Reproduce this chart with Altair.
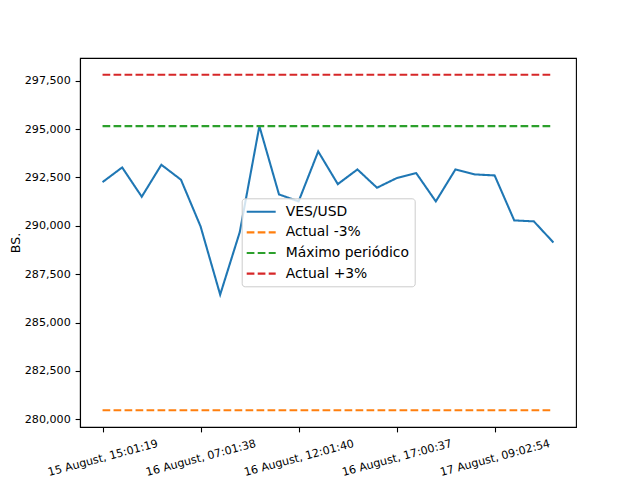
import altair as alt
import pandas as pd

# ---- data ----
series_names = ["VES/USD", "Actual -3%", "Máximo periódico", "Actual +3%"]
series_colors = ["#1f77b4", "#ff7f0e", "#2ca02c", "#d62728"]

ves_usd = [292259, 293018, 291505, 293157, 292383, 289970, 286441, 289677,
           295155, 291624, 291262, 293845, 292156, 292915, 291969, 292466,
           292724, 291262, 292915, 292657, 292605, 290280, 290229, 289137]

actual_minus_3 = 280465
maximo_periodico = 295155
actual_plus_3 = 297810

tick_positions = [0, 5, 10, 15, 20]
tick_labels = ["15 August, 15:01:19", "16 August, 07:01:38", "16 August, 12:01:40",
               "16 August, 17:00:37", "17 August, 09:02:54"]

y_ticks = [280000, 282500, 285000, 287500, 290000, 292500, 295000, 297500]

# ---- table ----
rows = []
for i, v in enumerate(ves_usd):
    rows.append({"series": "VES/USD", "idx": i, "value": v})
last = len(ves_usd) - 1
for name, lvl in [("Actual -3%", actual_minus_3), ("Máximo periódico", maximo_periodico),
                  ("Actual +3%", actual_plus_3)]:
    rows.append({"series": name, "idx": 0, "value": lvl})
    rows.append({"series": name, "idx": last, "value": lvl})
df = pd.DataFrame(rows)

label_expr = "''"
for p, t in reversed(list(zip(tick_positions, tick_labels))):
    label_expr = f"datum.value == {p} ? '{t}' : ({label_expr})"

dash = [7.7, 3.3]
dashes = [[1, 0], dash, dash, dash]

chart = alt.Chart(df).mark_line(strokeWidth=2.08).encode(
    x=alt.X("idx:Q",
            scale=alt.Scale(domain=[-1.15, 24.15], nice=False, zero=False),
            axis=alt.Axis(values=tick_positions, labelExpr=label_expr, title=None,
                          labelAngle=-15, labelAlign="center", labelBaseline="middle",
                          labelPadding=26, labelFontSize=11.1, labelOverlap=False,
                          labelFlush=False, labelBound=False)),
    y=alt.Y("value:Q",
            scale=alt.Scale(domain=[279598, 298677], nice=False, zero=False),
            axis=alt.Axis(values=y_ticks, format=",.0f", title="BS.",
                          labelFontSize=11.1, titleFontSize=12.5,
                          titleFontWeight="normal", titlePadding=2)),
    color=alt.Color("series:N", scale=alt.Scale(domain=series_names, range=series_colors),
                    legend=alt.Legend(title=None)),
    strokeDash=alt.StrokeDash("series:N", scale=alt.Scale(domain=series_names, range=dashes),
                              legend=alt.Legend(title=None)),
).properties(
    width=496, height=369,
    padding={"left": 72, "top": 50, "right": 56, "bottom": 53},
    autosize=alt.AutoSizeParams(type="none"),
).configure(
    font="DejaVu Sans",
).configure_view(
    stroke="black", strokeWidth=1.1,
).configure_axis(
    grid=False, domainColor="black", domainWidth=1.1, tickColor="black",
    tickWidth=1.1, tickSize=4.9, labelColor="black", titleColor="black",
    labelPadding=4.9, labelFont="DejaVu Sans", titleFont="DejaVu Sans",
).configure_legend(
    orient="none", legendX=161.7, legendY=140.3,
    fillColor="rgba(255,255,255,0.8)", strokeColor="#cccccc", cornerRadius=3,
    padding=5, labelFontSize=13.9, labelColor="black", labelFont="DejaVu Sans",
    symbolType="M-2,0H2", symbolSize=210, symbolStrokeWidth=2.08,
    symbolOffset=6, labelOffset=16, rowPadding=4.6,
)

chart.save("out.html", embed_options={"renderer": "svg", "actions": False})
